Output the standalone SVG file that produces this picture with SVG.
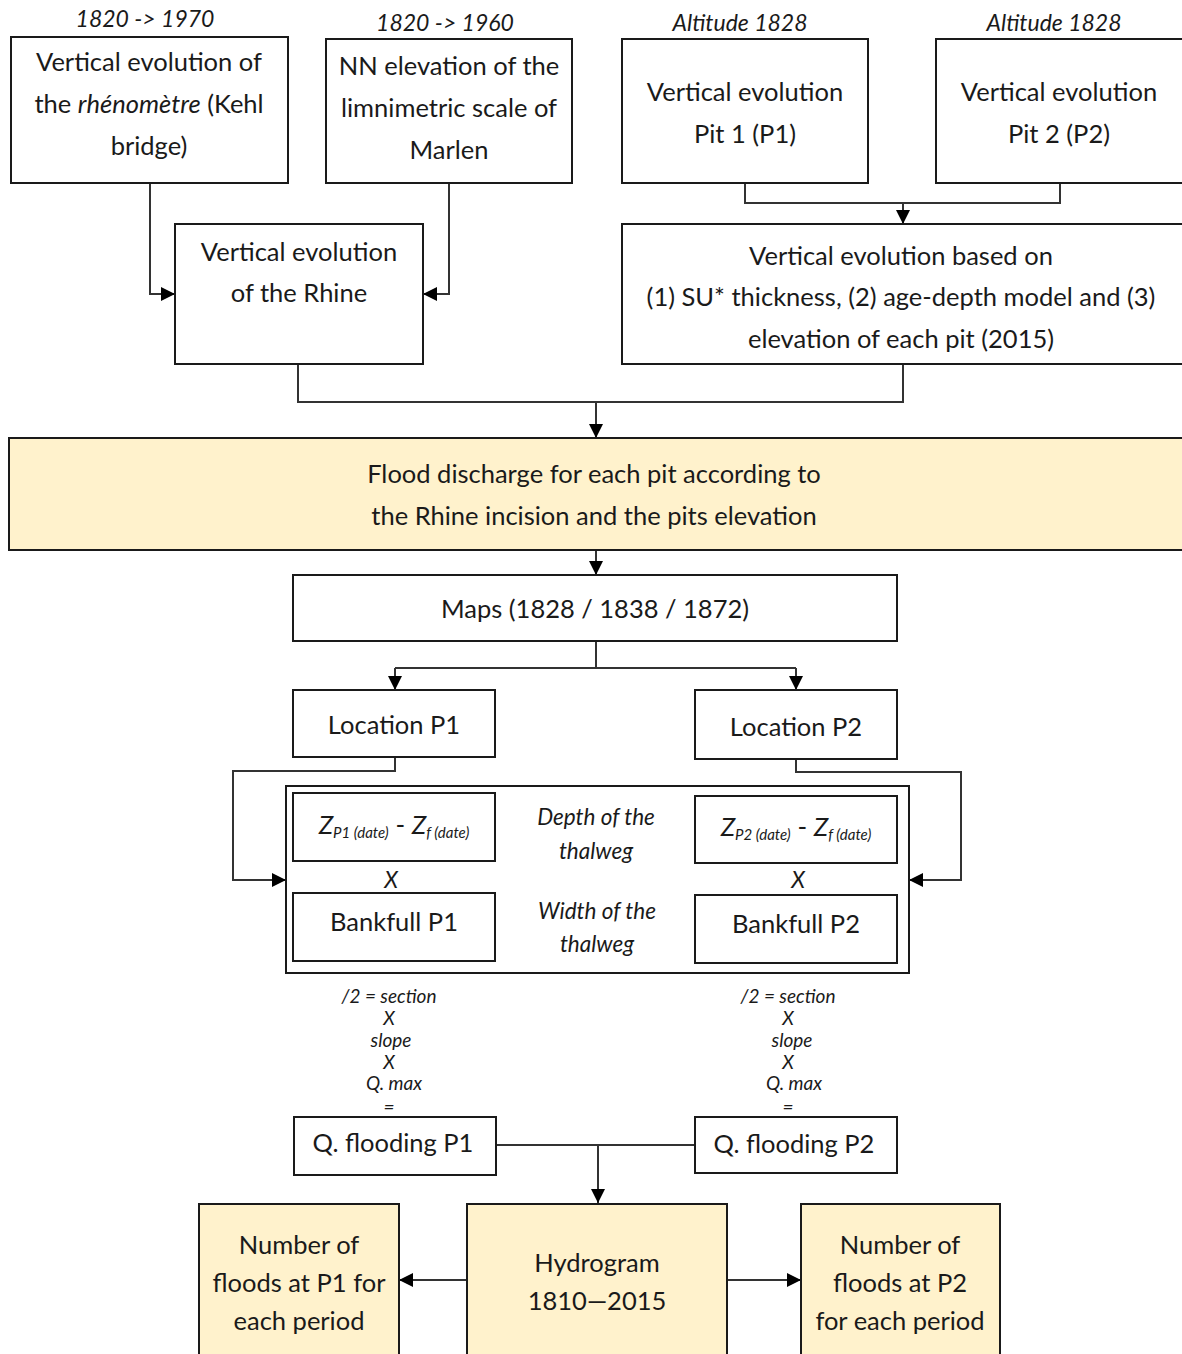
<svg xmlns="http://www.w3.org/2000/svg" width="1182" height="1354" viewBox="0 0 1182 1354">
<defs>
<marker id="ah" viewBox="0 0 10 10" refX="10" refY="5" markerWidth="14" markerHeight="14" markerUnits="userSpaceOnUse" orient="auto">
<path d="M0,0 L10,5 L0,10 z" fill="#000"/>
</marker>
</defs>
<style>
.b{fill:#fff;stroke:#1a1a1a;stroke-width:2}
.y{fill:#fff2cc;stroke:#1a1a1a;stroke-width:2}
.c{fill:none;stroke:#333;stroke-width:2}
.ca{fill:none;stroke:#333;stroke-width:2;marker-end:url(#ah)}
text{font-family:Lato,"Liberation Sans",sans-serif;font-size:25.5px;fill:#1a1a1a;text-anchor:middle}
.i{font-style:italic;font-size:23px}
.s{font-style:italic;font-size:22.5px}
.f{font-style:italic;font-size:19px}
.z{font-size:26px}
.sub{font-size:15px;font-style:italic}
</style>
<rect width="1182" height="1354" fill="#fff"/>
<g id="connectors">
<path class="ca" d="M150,183 V294 H175"/>
<path class="ca" d="M449,183 V294 H423"/>
<path class="c" d="M745,183 V203 H1060 V183"/>
<path class="ca" d="M903,203 V224"/>
<path class="c" d="M298,364 V402 H903 V364"/>
<path class="ca" d="M596,402 V438"/>
<path class="ca" d="M596,550 V575"/>
<path class="c" d="M596,641 V668 H395"/>
<path class="c" d="M596,668 H796"/>
<path class="ca" d="M395,668 V690"/>
<path class="ca" d="M796,668 V690"/>
<path class="ca" d="M395,757 V771 H233 V880 H286"/>
<path class="ca" d="M796,759 V772 H961 V880 H909"/>
<path class="c" d="M496,1145 H695"/>
<path class="ca" d="M598,1145 V1203"/>
<path class="ca" d="M467,1280 H399"/>
<path class="ca" d="M727,1280 H801"/>
</g>
<g id="n1">
<text class="i" x="145" y="27">1820 -&gt; 1970</text>
<rect class="b" x="11" y="37" width="277" height="146"/>
<text x="149" y="71">Vertical evolution of</text>
<text x="149" y="113">the <tspan font-style="italic">rhénomètre</tspan> (Kehl</text>
<text x="149" y="155">bridge)</text>
</g>
<g id="n2">
<text class="i" x="445" y="31">1820 -&gt; 1960</text>
<rect class="b" x="326" y="39" width="246" height="144"/>
<text x="449" y="75">NN elevation of the</text>
<text x="449" y="117">limnimetric scale of</text>
<text x="449" y="159">Marlen</text>
</g>
<g id="n3">
<text class="i" x="740" y="31">Altitude 1828</text>
<rect class="b" x="622" y="39" width="246" height="144"/>
<text x="745" y="101">Vertical evolution</text>
<text x="745" y="143">Pit 1 (P1)</text>
</g>
<g id="n4">
<text class="i" x="1054" y="31">Altitude 1828</text>
<rect class="b" x="936" y="39" width="250" height="144"/>
<text x="1059" y="101">Vertical evolution</text>
<text x="1059" y="143">Pit 2 (P2)</text>
</g>
<g id="n5">
<rect class="b" x="175" y="224" width="248" height="140"/>
<text x="299" y="261">Vertical evolution</text>
<text x="299" y="302">of the Rhine</text>
</g>
<g id="n6">
<rect class="b" x="622" y="224" width="564" height="140"/>
<text x="901" y="265">Vertical evolution based on</text>
<text x="901" y="306">(1) SU* thickness, (2) age-depth model and (3)</text>
<text x="901" y="348">elevation of each pit (2015)</text>
</g>
<g id="n7">
<rect class="y" x="9" y="438" width="1177" height="112"/>
<text x="594" y="483">Flood discharge for each pit according to</text>
<text x="594" y="525">the Rhine incision and the pits elevation</text>
</g>
<g id="n8">
<rect class="b" x="293" y="575" width="604" height="66"/>
<text x="595" y="618">Maps (1828 / 1838 / 1872)</text>
</g>
<g id="n9">
<rect class="b" x="293" y="690" width="202" height="67"/>
<text x="394" y="734">Location P1</text>
</g>
<g id="n10">
<rect class="b" x="695" y="690" width="202" height="69"/>
<text x="796" y="736">Location P2</text>
</g>
<g id="n11">
<rect class="b" x="286" y="786" width="623" height="187"/>
<text class="s" x="596" y="825">Depth of the</text>
<text class="s" x="596" y="859">thalweg</text>
<text class="s" x="597" y="919">Width of the</text>
<text class="s" x="597" y="952">thalweg</text>
<text class="s" x="391" y="888">X</text>
<text class="s" x="798" y="888">X</text>
</g>
<g id="n12">
<rect class="b" x="293" y="793" width="202" height="68"/>
<text class="z" x="394" y="834"><tspan font-style="italic">Z</tspan><tspan class="sub" dy="4">P1 (date)</tspan><tspan dy="-4"> - </tspan><tspan font-style="italic">Z</tspan><tspan class="sub" dy="4">f (date)</tspan></text>
</g>
<g id="n13">
<rect class="b" x="695" y="796" width="202" height="67"/>
<text class="z" x="796" y="836"><tspan font-style="italic">Z</tspan><tspan class="sub" dy="4">P2 (date)</tspan><tspan dy="-4"> - </tspan><tspan font-style="italic">Z</tspan><tspan class="sub" dy="4">f (date)</tspan></text>
</g>
<g id="n14">
<rect class="b" x="293" y="893" width="202" height="68"/>
<text x="394" y="931">Bankfull P1</text>
</g>
<g id="n15">
<rect class="b" x="695" y="895" width="202" height="68"/>
<text x="796" y="933">Bankfull P2</text>
</g>
<g id="f1">
<text class="f" x="389" y="1003">/2 = section</text>
<text class="f" x="389" y="1025">X</text>
<text class="f" x="391" y="1047">slope</text>
<text class="f" x="389" y="1069">X</text>
<text class="f" x="394" y="1090">Q. max</text>
<text class="f" x="389" y="1114">=</text>
</g>
<g id="f2">
<text class="f" x="788" y="1003">/2 = section</text>
<text class="f" x="788" y="1025">X</text>
<text class="f" x="792" y="1047">slope</text>
<text class="f" x="788" y="1069">X</text>
<text class="f" x="794" y="1090">Q. max</text>
<text class="f" x="788" y="1114">=</text>
</g>
<g id="n16">
<rect class="b" x="294" y="1117" width="202" height="58"/>
<text x="393" y="1152">Q. flooding P1</text>
</g>
<g id="n17">
<rect class="b" x="695" y="1117" width="202" height="56"/>
<text x="794" y="1153">Q. flooding P2</text>
</g>
<g id="n18">
<rect class="y" x="199" y="1204" width="200" height="160"/>
<text x="299" y="1254">Number of</text>
<text x="299" y="1292">floods at P1 for</text>
<text x="299" y="1330">each period</text>
</g>
<g id="n19">
<rect class="y" x="467" y="1204" width="260" height="160"/>
<text x="597" y="1272">Hydrogram</text>
<text x="597" y="1310">1810—2015</text>
</g>
<g id="n20">
<rect class="y" x="801" y="1204" width="199" height="160"/>
<text x="900" y="1254">Number of</text>
<text x="900" y="1292">floods at P2</text>
<text x="900" y="1330">for each period</text>
</g>
</svg>
